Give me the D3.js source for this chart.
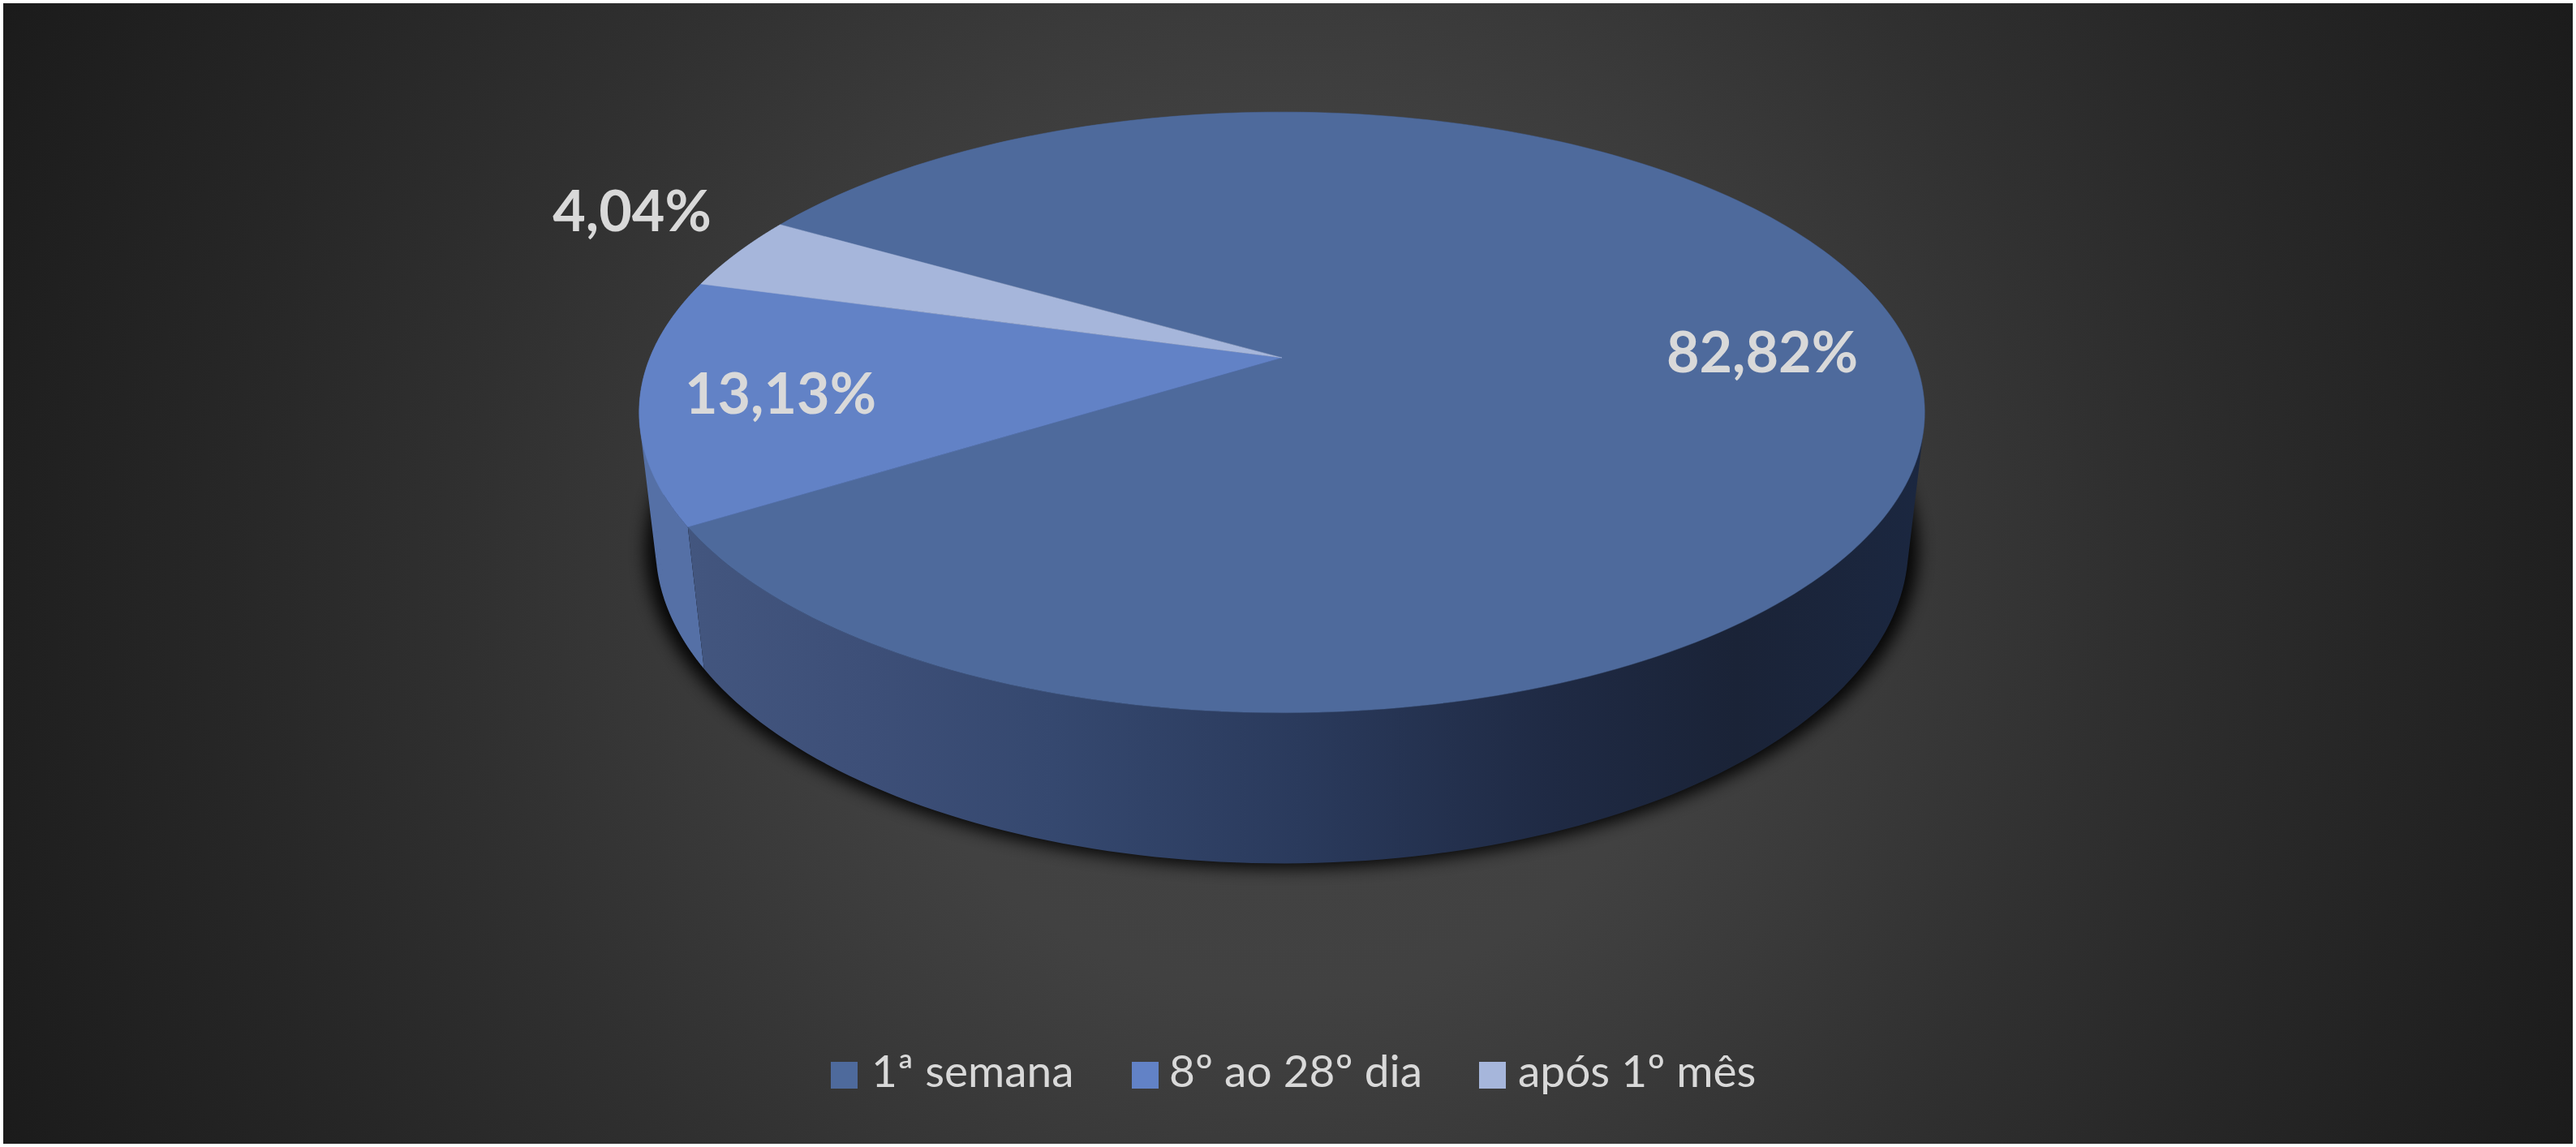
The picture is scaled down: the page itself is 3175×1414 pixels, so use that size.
<!DOCTYPE html>
<html><head><meta charset="utf-8">
<script src="https://cdn.jsdelivr.net/npm/d3@7/dist/d3.min.js"></script>
<style>html,body{margin:0;padding:0;background:#fff}svg{display:block}text{font-family:Lato,"Open Sans",sans-serif}</style>
</head><body>
<script>
const categories = ["1ª semana", "8º ao 28º dia", "após 1º mês"];
const values = [82.82, 13.13, 4.04];
const valueLabels = ["82,82%", "13,13%", "4,04%"];
const topColors = ["#4e6a9c", "#6282c6", "#a6b6db"];
const firstSliceAngleDeg = 300;

const W = 3175, H = 1414;
const svg = d3.select("body").append("svg").attr("width", W).attr("height", H);
const defs = svg.append("defs");

// background
const bg = defs.append("radialGradient").attr("id", "bg").attr("gradientUnits", "userSpaceOnUse")
  .attr("cx", 1587).attr("cy", 707).attr("r", 1740);
[[0,"#444444"],[0.3,"#414141"],[0.42,"#3a3a3a"],[0.58,"#303030"],[0.75,"#272727"],[1,"#1b1b1b"]]
  .forEach(([o,c]) => bg.append("stop").attr("offset", o).attr("stop-color", c));
svg.append("rect").attr("width", W).attr("height", H).attr("fill", "#fff");
svg.append("rect").attr("x", 4).attr("y", 4).attr("width", W - 8).attr("height", H - 8).attr("fill", "url(#bg)");

// perspective projection of the pie disc
const cx = 1580, vy = 441, A = 358, B = 779, c = 0.182, h = 0.0253, vanishY = 7070;
function project(angle, r, depth) {
  const u = r * Math.sin(angle), v = -r * Math.cos(angle);
  const w = 1 - c * v;
  const x = cx + B * u / w, y = vy + A * v / w;
  if (!depth) return [x, y];
  const t = h / (w + h);
  return [x + t * (cx - x), y + t * (vanishY - y)];
}
const a0 = firstSliceAngleDeg * Math.PI / 180;
const arcs = d3.pie().sort(null).startAngle(a0).endAngle(a0 + 2 * Math.PI)(values);
const samples = (s, e) => d3.range(0, 241).map(i => s + (e - s) * i / 240);
const line = d3.line();

// gradients for the side walls
const wall1 = defs.append("linearGradient").attr("id", "wall0").attr("gradientUnits", "userSpaceOnUse")
  .attr("x1", 840).attr("x2", 2370).attr("y1", 0).attr("y2", 0);
[[0,"#43567f"],[0.15,"#3d4f78"],[0.3,"#35486f"],[0.5,"#2a3a5c"],[0.7,"#1f2a44"],[0.85,"#1a2337"],[1,"#1b2740"]]
  .forEach(([o,col]) => wall1.append("stop").attr("offset", o).attr("stop-color", col));
const wallFill = ["url(#wall0)", "#5570a6", "#7e8fb5"];

// soft shadow: the base disc only, so nothing shows around the top face
const f = defs.append("filter").attr("id", "blur").attr("x", "-10%").attr("y", "-10%").attr("width", "120%").attr("height", "120%");
f.append("feGaussianBlur").attr("stdDeviation", 10);
const wallPath = (s, e) => {
  const a = samples(s, e);
  return d3.pairs(a).map(([p, q]) => {
    let quad = [project(p, 1, false), project(q, 1, false), project(q, 1, true), project(p, 1, true)];
    if (d3.polygonArea(quad) < 0) quad = quad.reverse();
    return line(quad) + "Z";
  }).join("");
};
svg.append("path").attr("d", line(samples(0, 2 * Math.PI).map(a => project(a, 1, true))) + "Z")
  .attr("fill", "#000").attr("opacity", 0.9).attr("filter", "url(#blur)")
  .attr("transform", "translate(0,4) translate(1580,700) scale(1.016,1.005) translate(-1580,-700)");

// walls then top faces
const order = [2, 1, 0];
svg.append("g").selectAll("path").data(order).join("path")
  .attr("fill", i => wallFill[i])
  .attr("d", i => wallPath(arcs[i].startAngle, arcs[i].endAngle));
svg.append("g").selectAll("path").data(arcs).join("path")
  .attr("fill", (d, i) => topColors[i])
  .attr("stroke", (d, i) => topColors[i]).attr("stroke-width", 0.5)
  .attr("d", d => line([[cx, vy]].concat(samples(d.startAngle, d.endAngle).map(t => project(t, 1, false)))) + "Z");

// data labels
const labelPos = [[2172, 459], [962, 510], [779, 285]];
svg.append("g").selectAll("text").data(valueLabels).join("text")
  .attr("x", (d, i) => labelPos[i][0]).attr("y", (d, i) => labelPos[i][1])
  .attr("text-anchor", "middle").attr("font-weight", 700).attr("font-size", 70)
  .attr("fill", "#d9d9d9").text(d => d);

// legend
const swatchX = [1024, 1395, 1823], textX = [1074, 1441, 1871];
const lg = svg.append("g").selectAll("g").data(categories).join("g");
lg.append("rect").attr("x", (d, i) => swatchX[i]).attr("y", 1309).attr("width", 33).attr("height", 33)
  .attr("fill", (d, i) => topColors[i]);
lg.append("text").attr("x", (d, i) => textX[i]).attr("y", 1340).attr("font-size", 55)
  .attr("fill", "#d9d9d9").text(d => d);
</script>
</body></html>
